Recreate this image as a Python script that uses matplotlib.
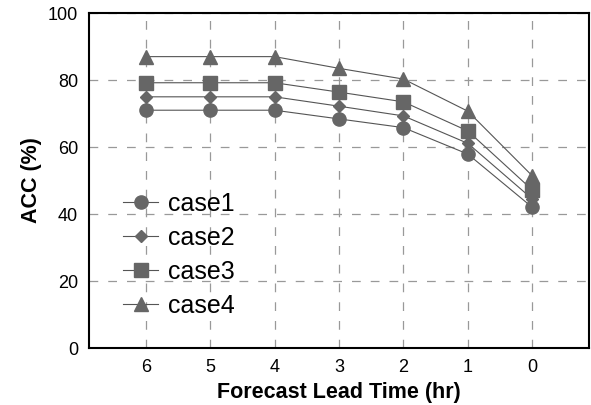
import matplotlib
matplotlib.use("Agg")
import matplotlib.pyplot as plt

plt.rcParams['font.family'] = ['Liberation Sans', 'DejaVu Sans']

# lead time labels (hr) and ACC values (%)
lead_labels = ['6', '5', '4', '3', '2', '1', '0']
lead_time = [6, 5, 4, 3, 2, 1, 0]
case1 = [71.0, 71.0, 71.0, 68.4, 65.8, 57.9, 42.0]
case2 = [75.0, 75.0, 75.0, 72.2, 69.3, 61.1, 44.5]
case3 = [79.2, 79.2, 79.2, 76.4, 73.5, 64.8, 47.2]
case4 = [87.0, 87.0, 87.0, 83.5, 80.3, 70.7, 51.4]
case_names = ['case1', 'case2', 'case3', 'case4']
markers = ['o', 'D', 's', '^']
msizes = [9.5, 6.5, 9.5, 9.5]

fig = plt.figure(figsize=(5.91, 4.05), dpi=100)
ax = fig.add_axes([0.1506, 0.1407, 0.846, 0.827])

for vals, name, mk, ms in zip([case1, case2, case3, case4], case_names, markers, msizes):
    ax.plot(lead_time, vals, marker=mk, markersize=ms, color='#555555',
            linewidth=0.8, markerfacecolor='#666666', markeredgecolor='#666666',
            label=name)

ax.set_xlim(6.88, -0.88)
ax.set_ylim(0, 100)
ax.set_xticks(lead_time)
ax.set_xticklabels(lead_labels)
ax.set_yticks([0, 20, 40, 60, 80, 100])
ax.tick_params(length=0, labelsize=13, pad=8)
ax.grid(True, color='#999999', linestyle=(0, (7, 8)), linewidth=0.9)
ax.set_axisbelow(True)
for sp in ax.spines.values():
    sp.set_linewidth(1.5)
    sp.set_color('black')

ax.set_xlabel('Forecast Lead Time (hr)', fontsize=15.5, fontweight='bold', labelpad=4)
ax.set_ylabel('ACC (%)', fontsize=15.5, fontweight='bold', labelpad=4)

ax.legend(loc='upper left', bbox_to_anchor=(0.043, 0.503), frameon=False,
          fontsize=18, handlelength=1.4, handletextpad=0.4, labelspacing=0.4,
          borderpad=0)

fig.savefig('out.png', dpi=100)
